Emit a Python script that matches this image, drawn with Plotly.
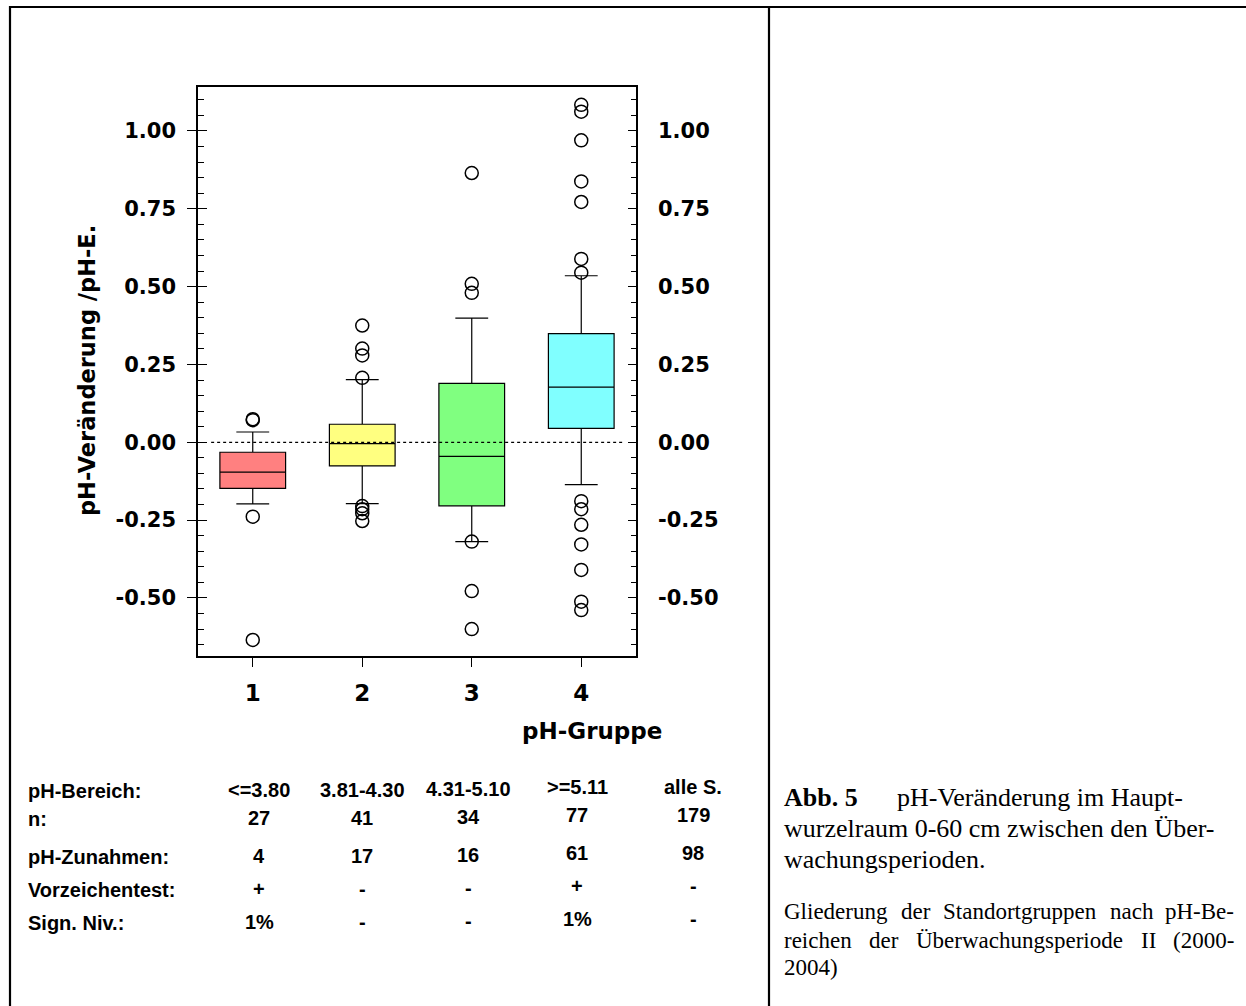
import plotly.graph_objects as go

# ---------------- data ----------------
groups = [1, 2, 3, 4]
group_labels = ["1", "2", "3", "4"]
q1 = [-0.148, -0.076, -0.204, 0.045]
median = [-0.096, -0.004, -0.045, 0.177]
q3 = [-0.032, 0.058, 0.189, 0.349]
lowerfence = [-0.198, -0.197, -0.319, -0.136]
upperfence = [0.033, 0.201, 0.399, 0.535]
box_colors = ["#FF8080", "#FFFF80", "#80FF80", "#80FFFF"]

outliers_1 = [0.071, 0.074, -0.239, -0.635]
outliers_2 = [0.375, 0.301, 0.279, 0.207, -0.205, -0.215, -0.228, -0.253]
outliers_3 = [0.865, 0.509, 0.480, -0.319, -0.478, -0.600]
outliers_4 = [1.084, 1.062, 0.970, 0.838, 0.772, 0.589, 0.545,
              -0.189, -0.215, -0.265, -0.328, -0.410, -0.512, -0.539]
outliers = [outliers_1, outliers_2, outliers_3, outliers_4]

y_tickvals = [-0.5, -0.25, 0.0, 0.25, 0.5, 0.75, 1.0]
y_ticktext = ["-0.50", "-0.25", "0.00", "0.25", "0.50", "0.75", "1.00"]
y_range = [-0.6865, 1.1413]
x_range = [0.5, 4.5]

table_row_labels = ["pH-Bereich:", "n:", "pH-Zunahmen:", "Vorzeichentest:", "Sign. Niv.:"]
ph_bereich = ["<=3.80", "3.81-4.30", "4.31-5.10", ">=5.11", "alle S."]
n_values = ["27", "41", "34", "77", "179"]
ph_zunahmen = ["4", "17", "16", "61", "98"]
vorzeichentest = ["+", "-", "-", "+", "-"]
sign_niv = ["1%", "-", "-", "1%", "-"]
table_rows = [ph_bereich, n_values, ph_zunahmen, vorzeichentest, sign_niv]

# ---------------- layout helpers ----------------
W, H = 1246, 1006
L, R, T, B = 198, 636, 87, 656


def px(x):
    return (x - L) / (R - L)


def py(y):
    return (B - y) / (B - T)


SANS = "DejaVu Sans"
ARIAL = "Liberation Sans, Arial"
SERIF = "Liberation Serif, Times New Roman, serif"

fig = go.Figure()

for i, g in enumerate(groups):
    fig.add_trace(go.Box(
        x=[g], q1=[q1[i]], median=[median[i]], q3=[q3[i]],
        lowerfence=[lowerfence[i]], upperfence=[upperfence[i]],
        fillcolor=box_colors[i], line=dict(color="black", width=1.2),
        width=0.6, whiskerwidth=0.5, boxpoints=False,
        showlegend=False, hoverinfo="skip",
    ))

for i, g in enumerate(groups):
    fig.add_trace(go.Scatter(
        x=[g] * len(outliers[i]), y=outliers[i], mode="markers",
        marker=dict(symbol="circle-open", size=13, color="black",
                    line=dict(width=1.5, color="black")),
        showlegend=False, hoverinfo="skip",
    ))

# empty traces to register overlay axes
fig.add_trace(go.Scatter(x=[], y=[], yaxis="y2", showlegend=False))
fig.add_trace(go.Scatter(x=[], y=[], yaxis="y3", showlegend=False))

# dotted zero reference line
fig.add_shape(type="line", xref="x", yref="y", x0=0.62, x1=4.38, y0=0, y1=0,
              line=dict(color="black", width=1.3, dash="dot"))

tickfont = dict(family=SANS, size=21, color="black", weight="bold")

fig.update_layout(
    width=W, height=H,
    margin=dict(l=L, r=W - R, t=T, b=H - B, pad=0),
    paper_bgcolor="white", plot_bgcolor="white",
    showlegend=False,
    xaxis=dict(
        range=x_range, tickmode="array", tickvals=groups, ticktext=group_labels,
        ticks="outside", ticklen=9, tickwidth=1.2, tickcolor="black",
        showline=True, linecolor="black", linewidth=1.5, mirror=True,
        showgrid=False, zeroline=False,
        tickfont=dict(family=SANS, size=23, color="black", weight="bold"),
        ticklabelstandoff=7,
    ),
    yaxis=dict(
        range=y_range, tickmode="array", tickvals=y_tickvals, ticktext=y_ticktext,
        ticks="outside", ticklen=9, tickwidth=1.2, tickcolor="black",
        minor=dict(tickmode="linear", tick0=0, dtick=0.05, ticks="inside",
                   ticklen=6, tickwidth=1.2, tickcolor="black", showgrid=False),
        showline=True, linecolor="black", linewidth=1.5, mirror=True,
        showgrid=False, zeroline=False, tickfont=tickfont,
        ticklabelstandoff=7,
    ),
    yaxis2=dict(
        range=y_range, overlaying="y", side="right",
        tickmode="array", tickvals=y_tickvals, ticktext=y_ticktext,
        ticks="inside", ticklen=8, tickwidth=1.2, tickcolor="black",
        minor=dict(tickmode="linear", tick0=0, dtick=0.05, ticks="inside",
                   ticklen=5, tickwidth=1.2, tickcolor="black", showgrid=False),
        showline=False, showgrid=False, zeroline=False, tickfont=tickfont,
        ticklabelstandoff=21,
    ),
    yaxis3=dict(
        range=y_range, overlaying="y", side="left",
        tickmode="array", tickvals=y_tickvals, ticktext=y_ticktext,
        showticklabels=False,
        ticks="inside", ticklen=9, tickwidth=1.2, tickcolor="black",
        showline=False, showgrid=False, zeroline=False,
    ),
)

annotations = []

# y axis title
annotations.append(dict(
    x=px(87), y=py(371), xref="paper", yref="paper", text="pH-Veränderung /pH-E.",
    textangle=-90, showarrow=False, xanchor="center", yanchor="middle",
    font=dict(family=SANS, size=22.5, color="black", weight="bold"),
))
# x axis title
annotations.append(dict(
    x=px(592), y=py(731), xref="paper", yref="paper", text="pH-Gruppe",
    showarrow=False, xanchor="center", yanchor="middle",
    font=dict(family=SANS, size=23, color="black", weight="bold"),
))

# table
row_y = [790, 818, 856, 889, 922]
col_x = [259, 362, 468, 577, 693]
col_dy = [0, 0, -1, -3, -3]
for r, lab in enumerate(table_row_labels):
    annotations.append(dict(
        x=px(26), y=py(row_y[r] + 1), xref="paper", yref="paper", text=lab,
        showarrow=False, xanchor="left", yanchor="middle",
        font=dict(family=ARIAL, size=20, color="black", weight="bold"),
    ))
    for c, val in enumerate(table_rows[r]):
        annotations.append(dict(
            x=px(col_x[c]), y=py(row_y[r] + col_dy[c]), xref="paper", yref="paper",
            text=val, showarrow=False, xanchor="center", yanchor="middle",
            font=dict(family=ARIAL, size=20, color="black", weight="bold"),
        ))

# caption
cap1 = 26
cap2 = 23
annotations.append(dict(
    x=px(782), y=py(797), xref="paper", yref="paper", text="<b>Abb. 5</b>",
    showarrow=False, xanchor="left", yanchor="middle",
    font=dict(family=SERIF, size=cap1, color="black"),
))
annotations.append(dict(
    x=px(895), y=py(797), xref="paper", yref="paper", text="pH-Veränderung im Haupt-",
    showarrow=False, xanchor="left", yanchor="middle",
    font=dict(family=SERIF, size=cap1, color="black"),
))
for text, yy in [("wurzelraum 0-60 cm zwischen den Über-", 828),
                 ("wachungsperioden.", 859)]:
    annotations.append(dict(
        x=px(782), y=py(yy), xref="paper", yref="paper", text=text,
        showarrow=False, xanchor="left", yanchor="middle",
        font=dict(family=SERIF, size=cap1, color="black"),
    ))

# justified second paragraph: word start positions (last word right-aligned)
line1_words = [("Gliederung", 782), ("der", 899), ("Standortgruppen", 941),
               ("nach", 1108), ("pH-Be-", 1236)]
line2_words = [("reichen", 782), ("der", 867), ("Überwachungsperiode", 914),
               ("II", 1139), ("(2000-", 1236)]
for words, yy in [(line1_words, 912), (line2_words, 940)]:
    for k, (wd, xx) in enumerate(words):
        last = k == len(words) - 1
        annotations.append(dict(
            x=px(xx), y=py(yy), xref="paper", yref="paper",
            text=wd, showarrow=False, xanchor="right" if last else "left",
            yanchor="middle", font=dict(family=SERIF, size=cap2, color="black"),
        ))
annotations.append(dict(
    x=px(782), y=py(967), xref="paper", yref="paper", text="2004)",
    showarrow=False, xanchor="left", yanchor="middle",
    font=dict(family=SERIF, size=cap2, color="black"),
))

fig.update_layout(annotations=annotations)

# page frame lines
frame = dict(color="black", width=2.2)
fig.add_shape(type="line", xref="paper", yref="paper",
              x0=px(9), x1=px(1246), y0=py(7), y1=py(7), line=frame)
fig.add_shape(type="line", xref="paper", yref="paper",
              x0=px(10), x1=px(10), y0=py(6), y1=py(1006), line=frame)
fig.add_shape(type="line", xref="paper", yref="paper",
              x0=px(769), x1=px(769), y0=py(6), y1=py(1006), line=frame)

fig.write_html("out.html", config={"displayModeBar": False},
               post_script="document.body.style.margin='0';")
